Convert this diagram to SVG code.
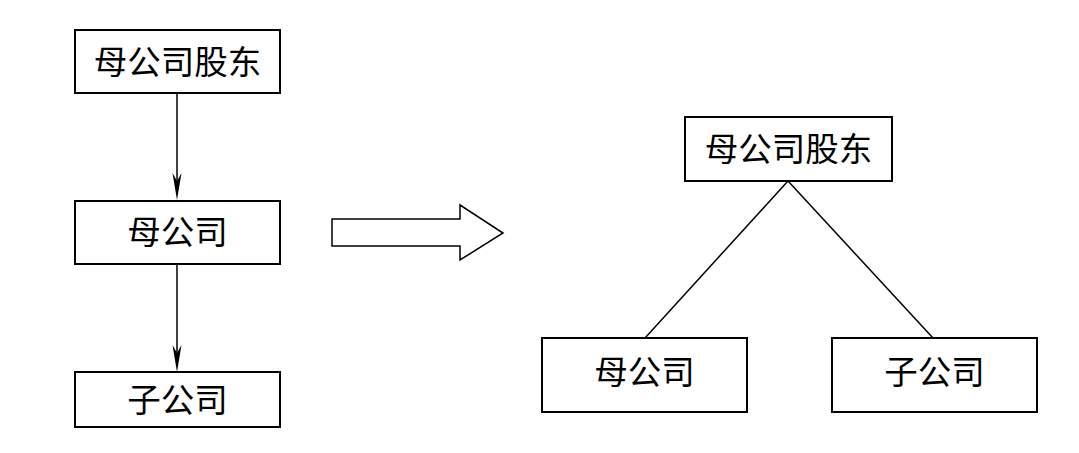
<svg xmlns="http://www.w3.org/2000/svg" width="1079" height="453" viewBox="0 0 1079 453">
<style>
.box{fill:#fff;stroke:#000;stroke-width:2}
.t{font-family:"Liberation Serif","Noto Sans CJK SC",serif;font-size:33.5px;fill:#000;text-anchor:middle;dominant-baseline:central}
.ln{stroke:#000;stroke-width:1.5;fill:none}
.ah{fill:#000}
</style>
<g id="connectors">
<line class="ln" x1="177" y1="94" x2="177" y2="192"/>
<path class="ah" d="M172.5,173 L177,200 L181.5,173 L177,181 Z"/>
<line class="ln" x1="177" y1="265" x2="177" y2="364"/>
<path class="ah" d="M172.5,345 L177,372 L181.5,345 L177,353 Z"/>
<line class="ln" x1="788" y1="181" x2="645" y2="338"/>
<line class="ln" x1="788" y1="181" x2="933" y2="338"/>
<path d="M332,219 L460,219 L460,205 L503,233 L460,260 L460,246 L332,246 Z" fill="#fff" stroke="#000" stroke-width="1.5"/>
</g>
<g id="n1"><rect class="box" x="75" y="30" width="205" height="63"/><text class="t" x="177.5" y="62">母公司股东</text></g>
<g id="n2"><rect class="box" x="75" y="201" width="205" height="63"/><text class="t" x="177.5" y="232">母公司</text></g>
<g id="n3"><rect class="box" x="75" y="372" width="205" height="55"/><text class="t" x="177.5" y="400">子公司</text></g>
<g id="n4"><rect class="box" x="685" y="117" width="207" height="64"/><text class="t" x="788.5" y="149">母公司股东</text></g>
<g id="n5"><rect class="box" x="542" y="338" width="205" height="74"/><text class="t" x="644.5" y="372">母公司</text></g>
<g id="n6"><rect class="box" x="832" y="338" width="205" height="74"/><text class="t" x="934.5" y="372">子公司</text></g>
</svg>
